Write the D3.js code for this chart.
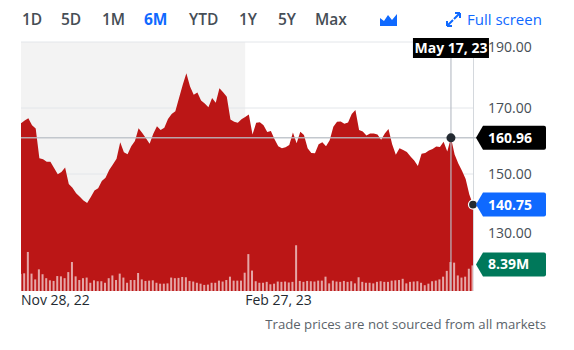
<!DOCTYPE html>
<html>
<head>
<meta charset="utf-8">
<script src="https://cdn.jsdelivr.net/npm/d3@7"></script>
<style>
  body { margin: 0; background: #fff; }
  svg { display: block; font-family: "Open Sans", "Noto Sans", sans-serif; }
</style>
</head>
<body>
<svg id="chart" width="574" height="350"></svg>
<script>
// Daily closing prices, Nov 28, 2022 – May 25, 2023 (one per trading day)
const prices = [
  165.4, 166.2, 166.9, 164.8, 163.8, 154.8, 154.5, 153.7, 153.7, 151.8,
  149.9, 150.6, 152.0, 147.0, 145.8, 144.2, 143.1, 142.0, 141.2, 143.0,
  145.0, 145.7, 147.9, 148.9, 151.2, 152.9, 154.6, 159.6, 156.6, 156.0,
  158.4, 160.0, 163.9, 162.4, 160.8, 159.2, 162.2, 164.5, 163.3, 164.0,
  166.7, 168.2, 169.0, 173.0, 177.0, 180.5, 176.5, 174.0, 174.7, 172.3,
  171.4, 170.2, 173.0, 171.6, 176.0, 174.8, 173.4, 166.5, 165.8, 165.5,
  166.6, 167.3, 168.0, 162.0, 165.5, 165.7, 164.8, 162.7, 163.0, 160.5,
  158.4, 157.8, 158.1, 158.8, 162.6, 159.3, 162.8, 161.8, 157.8, 156.4,
  156.3, 159.0, 159.6, 158.4, 160.2, 164.3, 165.8, 165.9, 165.2, 165.6,
  168.2, 169.4, 163.3, 162.9, 161.7, 162.3, 162.3, 162.0, 160.4, 162.3,
  163.6, 159.0, 155.8, 157.8, 157.3, 156.7, 155.3, 154.1, 152.4, 156.1,
  156.4, 157.1, 157.6, 158.3, 158.2, 159.8, 156.8, 160.96, 155.9, 153.2,
  151.0, 148.5, 143.8, 140.75
];

// Daily volume, millions of shares
const volumes = [
  5.6, 5.8, 12.8, 5.7, 3.8, 7.1, 5.5, 4.2, 3.5, 3.3,
  4.9, 4.8, 4.2, 6.2, 9.5, 4.8, 3.6, 4.2, 4.4, 2.7,
  3.5, 3.2, 3.2, 2.7, 4.2, 5.1, 3.6, 5.7, 4.4, 2.7,
  3.6, 3.6, 5.9, 3.8, 3.3, 3.4, 3.5, 2.7, 2.4, 2.4,
  2.5, 4.4, 4.2, 4.3, 4.6, 4.5, 3.3, 3.1, 2.7, 2.4,
  2.0, 2.1, 2.7, 2.7, 3.4, 3.1, 3.6, 4.7, 3.4, 3.4,
  3.4, 6.0, 12.1, 6.7, 3.2, 2.7, 2.7, 3.0, 2.2, 2.4,
  3.1, 3.0, 3.1, 2.8, 3.0, 15.0, 3.3, 3.0, 3.3, 3.2,
  3.1, 3.4, 3.4, 4.7, 2.5, 3.4, 3.1, 3.0, 3.3, 3.0,
  3.2, 2.5, 4.5, 3.0, 2.7, 2.7, 2.5, 3.0, 3.2, 3.0,
  3.0, 3.4, 3.5, 3.6, 4.0, 2.5, 3.0, 3.1, 3.2, 2.7,
  1.9, 2.4, 3.2, 3.4, 3.8, 4.7, 6.6, 9.5, 9.3, 5.1,
  4.4, 4.7, 7.3, 8.39
];

const rangeButtons = ["1D", "5D", "1M", "6M", "YTD", "1Y", "5Y", "Max"];
const activeRange = "6M";
const xTickIndex = [0, 61];
const xTickLabels = ["Nov 28, 22", "Feb 27, 23"];
const yTicks = [130, 150, 170, 190];
const hoverIndex = 117;
const hoverDate = "May 17, 23";
const shadeEndIndex = 61;
const footerNote = "Trade prices are not sourced from all markets";

const svg = d3.select("#chart");
const plot = { left: 21, right: 473, top: 42, bottom: 291 };

const x = d3.scaleLinear().domain([0, prices.length - 1]).range([plot.left, plot.right]);
const y = d3.scaleLinear().domain([130, 190]).range([240, plot.top]);
const yVol = d3.scaleLinear().domain([0, 20]).range([plot.bottom, plot.bottom - 61]);

// ---- range selector row ----
const btnX = [22, 61, 102, 144, 189, 239, 278, 315];
svg.append("g").selectAll("text").data(rangeButtons).join("text")
  .attr("x", (d, i) => btnX[i]).attr("y", 25)
  .attr("font-size", 15.5).attr("font-weight", d => d === activeRange ? 700 : 600)
  .attr("fill", d => d === activeRange ? "#0f69ff" : "#464e56")
  .text(d => d);

// chart-type icon (small filled mountain)
svg.append("path")
  .attr("d", "M380,26 L380,18 L384,21 L388,15 L392,20 L397,14 L397,26 Z")
  .attr("fill", "#0f69ff");

// full-screen icon
const fs = svg.append("g").attr("stroke", "#0f69ff").attr("stroke-width", 2).attr("fill", "none");
fs.append("path").attr("d", "M447,26 L453,20 M447,26 L447,21 M447,26 L452,26");
fs.append("path").attr("d", "M460,13 L454,19 M460,13 L455,13 M460,13 L460,18");
svg.append("text").attr("x", 467).attr("y", 25).attr("font-size", 15).attr("font-weight", 500)
  .attr("fill", "#0f69ff").text("Full screen");

// ---- background shading band ----
svg.append("rect")
  .attr("x", plot.left).attr("y", plot.top)
  .attr("width", x(shadeEndIndex) - plot.left).attr("height", plot.bottom - plot.top)
  .attr("fill", "#f3f3f3");

// ---- grid lines ----
svg.append("g").selectAll("line").data(yTicks).join("line")
  .attr("x1", plot.left).attr("x2", plot.right)
  .attr("y1", d => y(d)).attr("y2", d => y(d))
  .attr("stroke", "#e3e6ea").attr("stroke-width", 1);

// right boundary
svg.append("line")
  .attr("x1", plot.right + 0.5).attr("x2", plot.right + 0.5)
  .attr("y1", 38).attr("y2", plot.bottom)
  .attr("stroke", "#d4d8dd");

// ---- price area ----
const area = d3.area()
  .x((d, i) => x(i))
  .y0(plot.bottom)
  .y1(d => y(d));
svg.append("path").datum(prices).attr("d", area).attr("fill", "#bb1616");

// ---- volume bars ----
svg.append("g").selectAll("rect").data(volumes).join("rect")
  .attr("x", (d, i) => x(i) - 1.5)
  .attr("width", 2)
  .attr("y", d => yVol(d))
  .attr("height", d => plot.bottom - yVol(d))
  .attr("fill", "#ffffff").attr("fill-opacity", 0.62);

// ---- y axis labels ----
const yAxis = d3.axisRight(y).tickValues(yTicks).tickFormat(d3.format(".2f")).tickSize(0).tickPadding(0);
const yg = svg.append("g").attr("transform", `translate(488,0)`).call(yAxis);
yg.select(".domain").remove();
yg.selectAll(".tick")
  .attr("transform", d => `translate(0,${Math.max(47, Math.min(233, y(d)))})`);
yg.selectAll("text")
  .attr("font-family", "\"Open Sans\", sans-serif").attr("font-size", 14)
  .attr("fill", "#464e56").attr("dy", "0.35em");

// ---- x axis labels ----
svg.append("g").selectAll("text").data(xTickIndex).join("text")
  .attr("x", d => x(d)).attr("y", 305)
  .attr("font-size", 14).attr("fill", "#232a31")
  .text((d, i) => xTickLabels[i]);

// footer
svg.append("text").attr("x", 546).attr("y", 329).attr("text-anchor", "end")
  .attr("font-size", 13.2).attr("fill", "#5b636a").text(footerNote);

// ---- crosshair ----
const hx = x(hoverIndex), hy = y(prices[hoverIndex]);
svg.append("line").attr("x1", plot.left).attr("x2", 478).attr("y1", hy).attr("y2", hy)
  .attr("stroke", "#b8bec6").attr("stroke-width", 1.5).attr("stroke-opacity", 0.85);
svg.append("line").attr("x1", hx).attr("x2", hx).attr("y1", 56).attr("y2", plot.bottom)
  .attr("stroke", "#b8bec6").attr("stroke-width", 1.3).attr("stroke-opacity", 0.9);
svg.append("circle").attr("cx", hx).attr("cy", hy).attr("r", 4.5).attr("fill", "#232a31");

// date tag
svg.append("rect").attr("x", hx - 38).attr("y", 38).attr("width", 76).attr("height", 20).attr("fill", "#000");
svg.append("text").attr("x", hx).attr("y", 53).attr("text-anchor", "middle")
  .attr("font-size", 14).attr("font-weight", 700).attr("fill", "#fff").text(hoverDate);

// last-price marker
const last = prices.length - 1;
svg.append("circle").attr("cx", x(last)).attr("cy", y(prices[last])).attr("r", 4.5)
  .attr("fill", "#232a31").attr("stroke", "#fff").attr("stroke-width", 1.2);

// value tags on the right
function tag(cy, color, label) {
  const l = 476, r = 546, h = 12;
  svg.append("path")
    .attr("d", `M${l},${cy} L${l + 7},${cy - h} L${r - 2},${cy - h} Q${r},${cy - h} ${r},${cy - h + 2} L${r},${cy + h - 2} Q${r},${cy + h} ${r - 2},${cy + h} L${l + 7},${cy + h} Z`)
    .attr("fill", color);
  svg.append("text").attr("x", 488).attr("y", cy).attr("dy", "0.36em")
    .attr("font-size", 14).attr("font-weight", 700).attr("fill", "#fff").text(label);
}
tag(hy, "#000000", d3.format(".2f")(prices[hoverIndex]));
tag(y(prices[last]), "#0f69ff", d3.format(".2f")(prices[last]));
tag(yVol(volumes[last]) - 1, "#00785a", d3.format(".2f")(volumes[last]) + "M");
</script>
</body>
</html>
